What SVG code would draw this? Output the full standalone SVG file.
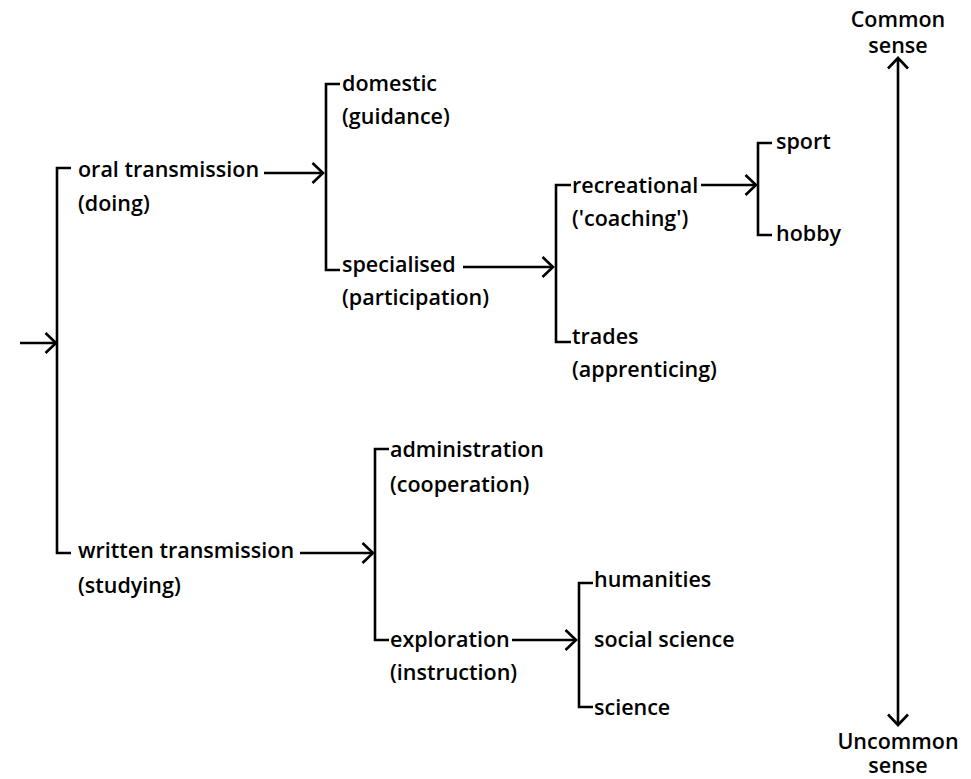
<svg xmlns="http://www.w3.org/2000/svg" width="971" height="779" viewBox="0 0 971 779">
<defs>
<marker id="arr" markerUnits="userSpaceOnUse" viewBox="-14 -13 16 26" refX="0" refY="0" markerWidth="16" markerHeight="26" orient="auto-start-reverse">
<path d="M-10.5,-10 L0,0 L-10.5,10" fill="none" stroke="#000" stroke-width="2.6"/>
</marker>
<style>
.t{font-family:"Open Sans","Liberation Sans",sans-serif;font-weight:600;font-size:21.5px;fill:#000}
.c{text-anchor:middle}
.b{fill:none;stroke:#000;stroke-width:2.6}
.a{fill:none;stroke:#000;stroke-width:2.6;marker-end:url(#arr)}
</style>
</defs>
<rect width="971" height="779" fill="#fff"/>
<g id="connectors">
<path class="b" d="M71,168 H57 V553 H71"/>
<path class="b" d="M340,84 H326 V270 H340"/>
<path class="b" d="M571,185 H556 V342 H571"/>
<path class="b" d="M772,143 H758 V235 H772"/>
<path class="b" d="M389,449 H375 V640 H389"/>
<path class="b" d="M593,583 H579 V707 H593"/>
<line class="a" x1="20" y1="343" x2="56" y2="343"/>
<line class="a" x1="264" y1="173" x2="323" y2="173"/>
<line class="a" x1="463" y1="267" x2="553" y2="267"/>
<line class="a" x1="701" y1="185" x2="756" y2="185"/>
<line class="a" x1="300" y1="553" x2="373" y2="553"/>
<line class="a" x1="512" y1="640" x2="576" y2="640"/>
<line class="a" x1="898" y1="58" x2="898" y2="725" style="marker-start:url(#arr)"/>
</g>
<g id="oral"><text class="t" x="78" y="177">oral transmission</text><text class="t" x="78" y="211">(doing)</text></g>
<g id="written"><text class="t" x="78" y="558">written transmission</text><text class="t" x="78" y="593">(studying)</text></g>
<g id="domestic"><text class="t" x="342" y="91">domestic</text><text class="t" x="342" y="124">(guidance)</text></g>
<g id="specialised"><text class="t" x="342" y="272">specialised</text><text class="t" x="342" y="305">(participation)</text></g>
<g id="recreational"><text class="t" x="572" y="193">recreational</text><text class="t" x="572" y="226">('coaching')</text></g>
<g id="trades"><text class="t" x="572" y="344">trades</text><text class="t" x="572" y="377">(apprenticing)</text></g>
<g id="sport"><text class="t" x="776" y="149">sport</text></g>
<g id="hobby"><text class="t" x="776" y="241">hobby</text></g>
<g id="administration"><text class="t" x="390" y="457">administration</text><text class="t" x="390" y="492">(cooperation)</text></g>
<g id="exploration"><text class="t" x="390" y="647">exploration</text><text class="t" x="390" y="680">(instruction)</text></g>
<g id="humanities"><text class="t" x="594" y="587">humanities</text></g>
<g id="social-science"><text class="t" x="594" y="647">social science</text></g>
<g id="science"><text class="t" x="594" y="715">science</text></g>
<g id="common-sense"><text class="t c" x="898" y="27">Common<tspan x="898" dy="26">sense</tspan></text></g>
<g id="uncommon-sense"><text class="t c" x="898" y="749">Uncommon<tspan x="898" dy="24">sense</tspan></text></g>
</svg>
